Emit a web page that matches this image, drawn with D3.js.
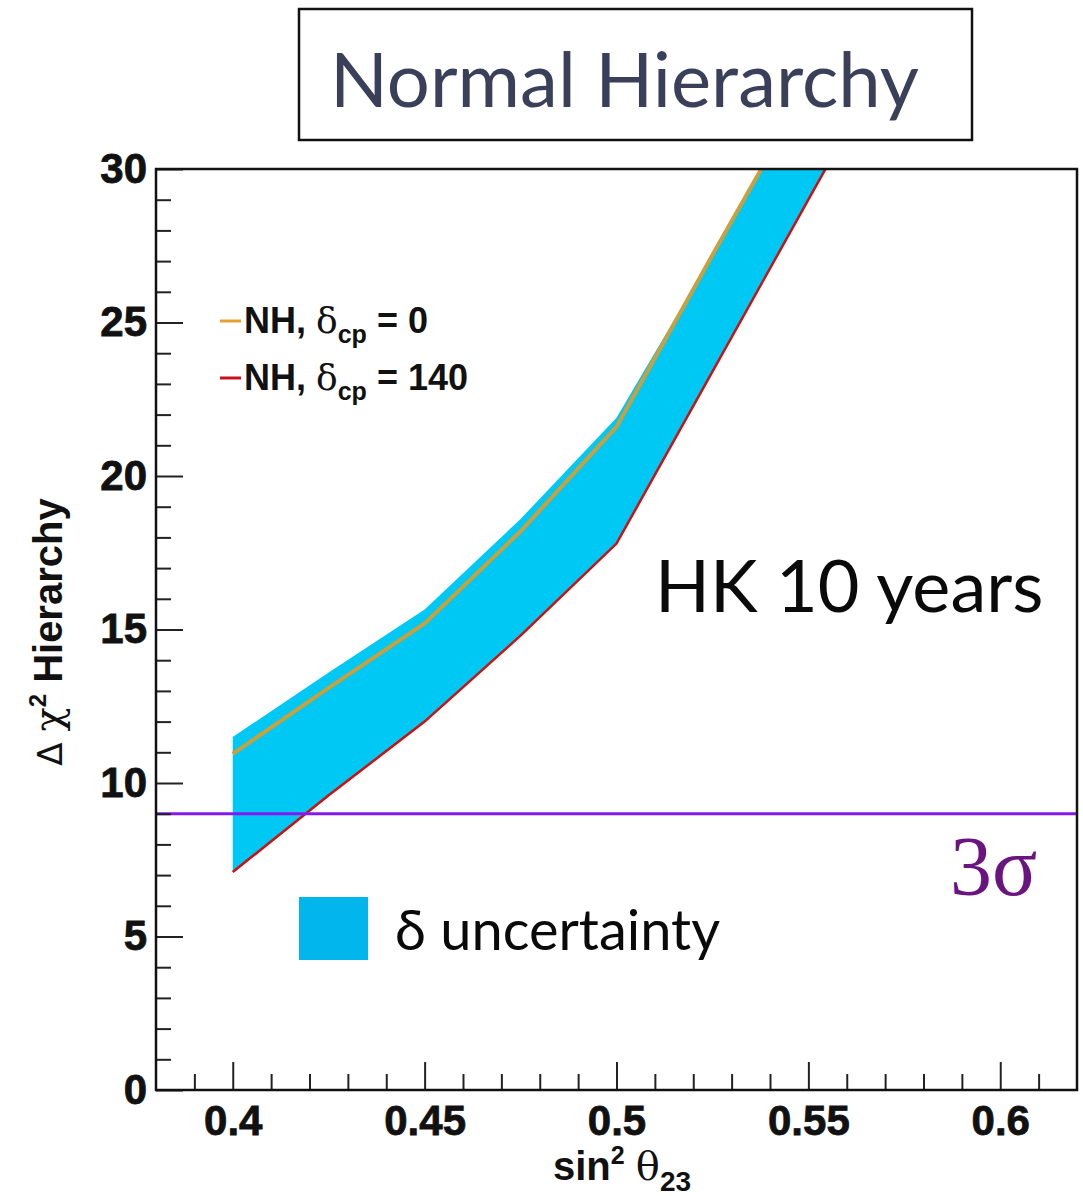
<!DOCTYPE html>
<html>
<head>
<meta charset="utf-8">
<script src="https://cdn.jsdelivr.net/npm/d3@7"></script>
<style>
  html, body { margin: 0; padding: 0; background: #fff; }
  svg { display: block; }
</style>
</head>
<body>
<div id="chart"></div>
<script>
// sin^2(theta_23) sampling points
const sin2Theta23 = [0.40, 0.425, 0.45, 0.475, 0.50, 0.525, 0.55, 0.575];
// Delta chi^2 for delta_cp = 0 (orange curve)
const chi2Dcp0 = [10.95, 13.1, 15.2, 18.2, 21.6, 27.2, 32.7, 38.3];
// Delta chi^2 for delta_cp = 140 (red curve)
const chi2Dcp140 = [7.1, 9.6, 12.0, 14.8, 17.8, 23.4, 29.0, 34.6];
// upper edge of the delta_cp uncertainty band
const bandUpper = [11.5, 13.6, 15.65, 18.6, 21.9, 27.2, 32.7, 38.3];
// 3 sigma threshold
const threeSigma = 9;

const xMajorTicks = [0.40, 0.45, 0.50, 0.55, 0.60];
const xTickLabels = ["0.4", "0.45", "0.5", "0.55", "0.6"];
const yMajorTicks = [0, 5, 10, 15, 20, 25, 30];
const yTickLabels = ["0", "5", "10", "15", "20", "25", "30"];

const W = 1083, H = 1196;
const plot = { left: 156, top: 169, right: 1077, bottom: 1090 };

const svg = d3.select("#chart").append("svg")
  .attr("width", W).attr("height", H);

const x = d3.scaleLinear().domain([0.38, 0.62]).range([plot.left, plot.right]);
const y = d3.scaleLinear().domain([0, 30]).range([plot.bottom, plot.top]);

const rows = sin2Theta23.map((s, i) => ({
  s, up: bandUpper[i], d0: chi2Dcp0[i], d140: chi2Dcp140[i]
}));

svg.append("defs").append("clipPath").attr("id", "plotClip")
  .append("rect")
  .attr("x", plot.left).attr("y", plot.top)
  .attr("width", plot.right - plot.left).attr("height", plot.bottom - plot.top);

const g = svg.append("g").attr("clip-path", "url(#plotClip)");

// uncertainty band
g.append("path")
  .datum(rows)
  .attr("fill", "#00c8f5")
  .attr("d", d3.area().x(d => x(d.s)).y0(d => y(d.d140)).y1(d => y(d.up)));

// delta_cp = 0 curve
g.append("path")
  .datum(rows)
  .attr("fill", "none")
  .attr("stroke", "#c9a03c")
  .attr("stroke-width", 4)
  .attr("d", d3.line().x(d => x(d.s)).y(d => y(d.d0)));

// delta_cp = 140 curve
g.append("path")
  .datum(rows)
  .attr("fill", "none")
  .attr("stroke", "#cc1010")
  .attr("stroke-width", 2.5)
  .attr("d", d3.line().x(d => x(d.s)).y(d => y(d.d140)));

// 3 sigma line
svg.append("line")
  .attr("x1", plot.left).attr("x2", plot.right)
  .attr("y1", y(threeSigma)).attr("y2", y(threeSigma))
  .attr("stroke", "#8418ee").attr("stroke-width", 3);

// axes: ticks point into the frame
const tickFont = "'Liberation Sans', Arial, sans-serif";
const xMinor = d3.range(0.39, 0.6101, 0.01).map(v => +v.toFixed(2))
  .filter(v => !xMajorTicks.some(m => Math.abs(m - v) < 1e-6));
const yMinor = d3.range(0, 31, 1).filter(v => v % 5 !== 0);

svg.append("g").attr("transform", `translate(0,${plot.bottom})`)
  .call(d3.axisBottom(x).tickValues(xMajorTicks).tickSize(-28).tickPadding(15)
    .tickFormat((d, i) => xTickLabels[i]));
svg.append("g").attr("transform", `translate(0,${plot.bottom})`)
  .call(d3.axisBottom(x).tickValues(xMinor).tickSize(-16).tickFormat(""));

svg.append("g").attr("transform", `translate(${plot.left},0)`)
  .call(d3.axisLeft(y).tickValues(yMajorTicks).tickSize(-27).tickPadding(9)
    .tickFormat((d, i) => yTickLabels[i]));
svg.append("g").attr("transform", `translate(${plot.left},0)`)
  .call(d3.axisLeft(y).tickValues(yMinor).tickSize(-15).tickFormat(""));

svg.selectAll(".domain").remove();
svg.selectAll(".tick line").attr("stroke", "#222").attr("stroke-width", 2);
svg.selectAll(".tick text")
  .attr("font-family", tickFont).attr("font-weight", "bold")
  .attr("font-size", 42).attr("fill", "#111")
  .attr("stroke", "#111").attr("stroke-width", 0.8);

// frame
svg.append("rect")
  .attr("x", plot.left).attr("y", plot.top)
  .attr("width", plot.right - plot.left).attr("height", plot.bottom - plot.top)
  .attr("fill", "none").attr("stroke", "#111").attr("stroke-width", 2.5);

// axis titles
const yt = svg.append("text")
  .attr("transform", `translate(62,632) rotate(-90)`)
  .attr("text-anchor", "middle")
  .attr("font-family", tickFont).attr("font-size", 40).attr("fill", "#111");
yt.append("tspan").attr("font-family", "'DejaVu Sans', sans-serif").attr("font-size", 34).text("Δ ");
yt.append("tspan").attr("font-family", "'DejaVu Serif', serif").text("χ");
yt.append("tspan").attr("font-size", 24).attr("font-weight", "bold").attr("dy", -16).text("2");
yt.append("tspan").attr("dy", 16).attr("font-weight", "bold").text(" Hierarchy");

const xt = svg.append("text")
  .attr("x", 622).attr("y", 1180)
  .attr("text-anchor", "middle")
  .attr("font-family", tickFont).attr("font-weight", "bold")
  .attr("font-size", 40).attr("fill", "#111");
xt.append("tspan").text("sin");
xt.append("tspan").attr("font-size", 25).attr("dy", -16).text("2");
xt.append("tspan").attr("dy", 16).text(" ");
xt.append("tspan").attr("font-family", "'DejaVu Serif', serif").attr("font-weight", "normal").text("θ");
xt.append("tspan").attr("font-size", 28).attr("dy", 11).text("23");

// curve legend
const curveLegend = [
  { label: "0", color: "#e8a030", y: 321 },
  { label: "140", color: "#c81020", y: 378 }
];
curveLegend.forEach(e => {
  svg.append("line")
    .attr("x1", 220).attr("x2", 241).attr("y1", e.y).attr("y2", e.y)
    .attr("stroke", e.color).attr("stroke-width", 3);
  const t = svg.append("text")
    .attr("x", 244).attr("y", e.y + 12)
    .attr("font-family", tickFont).attr("font-weight", "bold")
    .attr("font-size", 36).attr("fill", "#111");
  t.append("tspan").text("NH, ");
  t.append("tspan").attr("font-family", "'DejaVu Serif', serif").attr("font-weight", "normal").text("δ");
  t.append("tspan").attr("font-size", 25).attr("dy", 10).text("cp");
  t.append("tspan").attr("dy", -10).text(" = " + e.label);
});

// title box
svg.append("rect")
  .attr("x", 299).attr("y", 9).attr("width", 673).attr("height", 131)
  .attr("fill", "#fff").attr("stroke", "#111").attr("stroke-width", 2.5);
svg.append("text")
  .attr("x", 330).attr("y", 107)
  .attr("font-family", "Lato, 'Open Sans', sans-serif")
  .attr("font-size", 76).attr("fill", "#3a3f5a")
  .text("Normal Hierarchy");

// annotations
svg.append("text")
  .attr("x", 655).attr("y", 612)
  .attr("font-family", "Lato, 'Open Sans', sans-serif")
  .attr("font-size", 72).attr("fill", "#0a0a0a")
  .text("HK 10 years");

svg.append("text")
  .attr("x", 950).attr("y", 895)
  .attr("font-family", "'Liberation Serif', 'DejaVu Serif', serif")
  .attr("font-size", 84).attr("fill", "#6a1480")
  .text("3σ");

// band legend
svg.append("rect")
  .attr("x", 299).attr("y", 897).attr("width", 69).attr("height", 63)
  .attr("fill", "#00b6ec");
svg.append("text")
  .attr("x", 395).attr("y", 950)
  .attr("font-family", "Lato, 'Open Sans', sans-serif")
  .attr("font-size", 56).attr("fill", "#0a0a0a")
  .text("δ uncertainty");
</script>
</body>
</html>
